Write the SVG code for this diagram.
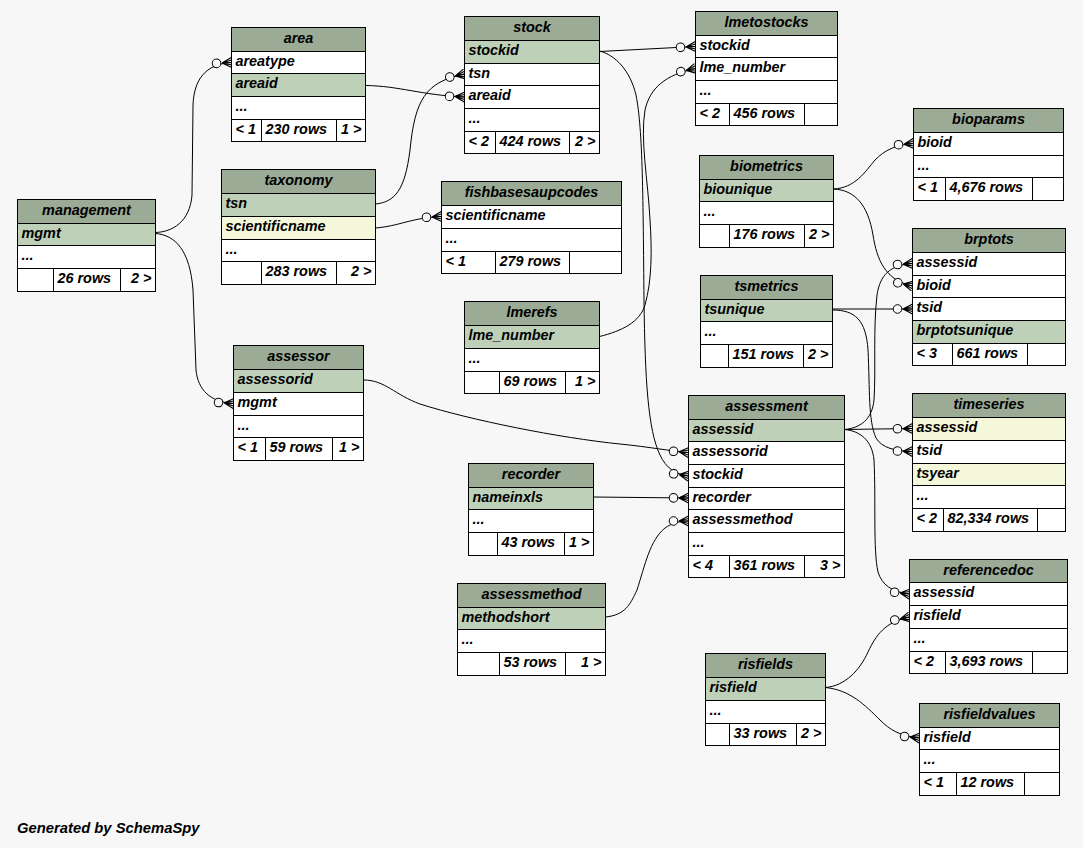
<svg xmlns="http://www.w3.org/2000/svg" width="1083" height="848" viewBox="0 0 1083 848">
<style>
text{font-family:"Liberation Sans",Arial,sans-serif;font-size:14.4px;font-weight:bold;font-style:italic;fill:#000}
.h{text-anchor:middle}
.r{text-anchor:end}
.hd{fill:#9bab96;stroke:#000}
.pk{fill:#bed1b8;stroke:#000}
.ix{fill:#f4f7da;stroke:#000}
.rw{fill:#fff;stroke:#000}
.ln{stroke:#000;fill:none}
.e{stroke:#000;fill:none;stroke-width:1;marker-end:url(#crow)}
</style>
<defs>
<marker id="crow" markerUnits="userSpaceOnUse" markerWidth="24" markerHeight="14" refX="20" refY="7" orient="auto" overflow="visible">
<path d="M10.5,7 L20,2 M10.5,7 L20,7 M10.5,7 L20,12 M10.5,7 L20,4.5 M10.5,7 L20,9.5" stroke="#000" stroke-width="1.1" fill="none"/>
<circle cx="5" cy="7" r="4.3" fill="#f7f7f7" stroke="#000"/>
</marker>
</defs>
<rect width="1083" height="848" fill="#f7f7f7"/>

<g id="connectors">
<path class="e" d="M155.5,232.5 C172,232 190,222 192,195 L193,105 C194,80 205,64 231.5,62.5"/>
<path class="e" d="M155.5,233.5 C175,235 190,250 193,290 L196,370 C198,390 210,402 233.5,403.5"/>
<path class="e" d="M365.5,85.5 C400,86 420,95 464.5,97"/>
<path class="e" d="M375.5,204 C395,202 405,190 410,150 C415,100 425,82 464.5,74"/>
<path class="e" d="M375.5,228 C400,226 410,218 441.5,216.5"/>
<path class="e" d="M599.5,51.5 L695.5,46.5"/>
<path class="e" d="M599.5,336.5 C622,331 640,322 645,305 C652,280 652,250 650,220 C648,180 640,140 645,110 C650,88 665,75 695.5,68.5"/>
<path class="e" d="M599.5,51 C615,55 630,70 636,95 C643,130 643,200 644,300 C645,380 648,430 660,455 C666,468 675,474 688.5,476"/>
<path class="e" d="M363.5,380 C385,380 395,395 420,404 C470,420 560,438 620,444 C650,447 670,451 688.5,452.5"/>
<path class="e" d="M593.5,497 L688.5,498"/>
<path class="e" d="M605.5,617 C625,615 630,605 637,590 C645,565 650,540 665,528 C672,523 680,521 688.5,521"/>
<path class="e" d="M833.5,189 C855,188 865,172 875,160 C885,150 895,145 913.5,143.5"/>
<path class="e" d="M833.5,189 C855,190 868,205 873,235 C877,260 885,280 912.5,286"/>
<path class="e" d="M832.5,309 L912.5,309"/>
<path class="e" d="M832.5,310 C855,310 866,320 868,350 C870,390 868,420 876,438 C882,448 895,451 912.5,451.5"/>
<path class="e" d="M844.5,429.5 L912.5,428.5"/>
<path class="e" d="M844.5,429.5 C860,428 872,420 874,400 C876,370 873,330 877,295 C880,275 890,265 912.5,263.5"/>
<path class="e" d="M844.5,429.5 C860,431 872,440 874,460 C876,500 873,550 878,572 C882,585 892,592 909.5,594"/>
<path class="e" d="M825.5,687.5 C845,686 860,670 868,652 C876,635 885,622 909.5,617"/>
<path class="e" d="M825.5,687.5 C850,690 865,705 880,720 C890,730 900,736 919.5,738"/>
</g>

<g id="management">
<rect class="hd" x="17.5" y="199.5" width="138" height="24"/>
<text class="h" x="86.5" y="214.5">management</text>
<rect class="pk" x="17.5" y="223.5" width="138" height="22"/>
<text x="21.5" y="237.5">mgmt</text>
<rect class="rw" x="17.5" y="245.5" width="138" height="23"/>
<text x="21.5" y="259.5">...</text>
<rect class="rw" x="17.5" y="268.5" width="138" height="23"/>
<path class="ln" d="M53.5,268.5v23M120.5,268.5v23"/>
<text x="57.5" y="282.5">26 rows</text>
<text class="r" x="151.5" y="282.5">2 &gt;</text>
</g>

<g id="area">
<rect class="hd" x="231.5" y="27.5" width="134" height="24"/>
<text class="h" x="298.5" y="42.5">area</text>
<rect class="rw" x="231.5" y="51.5" width="134" height="22"/>
<text x="235.5" y="65.5">areatype</text>
<rect class="pk" x="231.5" y="73.5" width="134" height="23"/>
<text x="235.5" y="87.5">areaid</text>
<rect class="rw" x="231.5" y="96.5" width="134" height="23"/>
<text x="235.5" y="110.5">...</text>
<rect class="rw" x="231.5" y="119.5" width="134" height="22"/>
<path class="ln" d="M261.5,119.5v22M336.5,119.5v22"/>
<text x="235.5" y="133.5">&lt; 1</text>
<text x="265.5" y="133.5">230 rows</text>
<text class="r" x="361.5" y="133.5">1 &gt;</text>
</g>

<g id="taxonomy">
<rect class="hd" x="221.5" y="169.5" width="154" height="24"/>
<text class="h" x="298.5" y="184.5">taxonomy</text>
<rect class="pk" x="221.5" y="193.5" width="154" height="23"/>
<text x="225.5" y="207.5">tsn</text>
<rect class="ix" x="221.5" y="216.5" width="154" height="23"/>
<text x="225.5" y="230.5">scientificname</text>
<rect class="rw" x="221.5" y="239.5" width="154" height="22"/>
<text x="225.5" y="253.5">...</text>
<rect class="rw" x="221.5" y="261.5" width="154" height="23"/>
<path class="ln" d="M261.5,261.5v23M336.5,261.5v23"/>
<text x="265.5" y="275.5">283 rows</text>
<text class="r" x="371.5" y="275.5">2 &gt;</text>
</g>

<g id="stock">
<rect class="hd" x="464.5" y="16.5" width="135" height="24"/>
<text class="h" x="532" y="31.5">stock</text>
<rect class="pk" x="464.5" y="40.5" width="135" height="23"/>
<text x="468.5" y="54.5">stockid</text>
<rect class="rw" x="464.5" y="63.5" width="135" height="22"/>
<text x="468.5" y="77.5">tsn</text>
<rect class="rw" x="464.5" y="85.5" width="135" height="23"/>
<text x="468.5" y="99.5">areaid</text>
<rect class="rw" x="464.5" y="108.5" width="135" height="23"/>
<text x="468.5" y="122.5">...</text>
<rect class="rw" x="464.5" y="131.5" width="135" height="22"/>
<path class="ln" d="M495.5,131.5v22M569.5,131.5v22"/>
<text x="468.5" y="145.5">&lt; 2</text>
<text x="499.5" y="145.5">424 rows</text>
<text class="r" x="595.5" y="145.5">2 &gt;</text>
</g>

<g id="lmetostocks">
<rect class="hd" x="695.5" y="11.5" width="142" height="24"/>
<text class="h" x="766.5" y="26.5">lmetostocks</text>
<rect class="rw" x="695.5" y="35.5" width="142" height="22"/>
<text x="699.5" y="49.5">stockid</text>
<rect class="rw" x="695.5" y="57.5" width="142" height="23"/>
<text x="699.5" y="71.5">lme_number</text>
<rect class="rw" x="695.5" y="80.5" width="142" height="23"/>
<text x="699.5" y="94.5">...</text>
<rect class="rw" x="695.5" y="103.5" width="142" height="22"/>
<path class="ln" d="M729.5,103.5v22M804.5,103.5v22"/>
<text x="699.5" y="117.5">&lt; 2</text>
<text x="733.5" y="117.5">456 rows</text>
</g>

<g id="fishbasesaupcodes">
<rect class="hd" x="441.5" y="181.5" width="180" height="24"/>
<text class="h" x="531.5" y="196.5">fishbasesaupcodes</text>
<rect class="rw" x="441.5" y="205.5" width="180" height="23"/>
<text x="445.5" y="219.5">scientificname</text>
<rect class="rw" x="441.5" y="228.5" width="180" height="23"/>
<text x="445.5" y="242.5">...</text>
<rect class="rw" x="441.5" y="251.5" width="180" height="22"/>
<path class="ln" d="M495.5,251.5v22M569.5,251.5v22"/>
<text x="445.5" y="265.5">&lt; 1</text>
<text x="499.5" y="265.5">279 rows</text>
</g>

<g id="biometrics">
<rect class="hd" x="699.5" y="155.5" width="134" height="24"/>
<text class="h" x="766.5" y="170.5">biometrics</text>
<rect class="pk" x="699.5" y="179.5" width="134" height="22"/>
<text x="703.5" y="193.5">biounique</text>
<rect class="rw" x="699.5" y="201.5" width="134" height="23"/>
<text x="703.5" y="215.5">...</text>
<rect class="rw" x="699.5" y="224.5" width="134" height="23"/>
<path class="ln" d="M729.5,224.5v23M804.5,224.5v23"/>
<text x="733.5" y="238.5">176 rows</text>
<text class="r" x="829.5" y="238.5">2 &gt;</text>
</g>

<g id="bioparams">
<rect class="hd" x="913.5" y="108.5" width="150" height="24"/>
<text class="h" x="988.5" y="123.5">bioparams</text>
<rect class="rw" x="913.5" y="132.5" width="150" height="23"/>
<text x="917.5" y="146.5">bioid</text>
<rect class="rw" x="913.5" y="155.5" width="150" height="22"/>
<text x="917.5" y="169.5">...</text>
<rect class="rw" x="913.5" y="177.5" width="150" height="23"/>
<path class="ln" d="M945.5,177.5v23M1032.5,177.5v23"/>
<text x="917.5" y="191.5">&lt; 1</text>
<text x="949.5" y="191.5">4,676 rows</text>
</g>

<g id="brptots">
<rect class="hd" x="912.5" y="228.5" width="153" height="24"/>
<text class="h" x="989" y="243.5">brptots</text>
<rect class="rw" x="912.5" y="252.5" width="153" height="23"/>
<text x="916.5" y="266.5">assessid</text>
<rect class="rw" x="912.5" y="275.5" width="153" height="22"/>
<text x="916.5" y="289.5">bioid</text>
<rect class="rw" x="912.5" y="297.5" width="153" height="23"/>
<text x="916.5" y="311.5">tsid</text>
<rect class="pk" x="912.5" y="320.5" width="153" height="23"/>
<text x="916.5" y="334.5">brptotsunique</text>
<rect class="rw" x="912.5" y="343.5" width="153" height="22"/>
<path class="ln" d="M952.5,343.5v22M1027.5,343.5v22"/>
<text x="916.5" y="357.5">&lt; 3</text>
<text x="956.5" y="357.5">661 rows</text>
</g>

<g id="tsmetrics">
<rect class="hd" x="700.5" y="275.5" width="132" height="24"/>
<text class="h" x="766.5" y="290.5">tsmetrics</text>
<rect class="pk" x="700.5" y="299.5" width="132" height="22"/>
<text x="704.5" y="313.5">tsunique</text>
<rect class="rw" x="700.5" y="321.5" width="132" height="23"/>
<text x="704.5" y="335.5">...</text>
<rect class="rw" x="700.5" y="344.5" width="132" height="23"/>
<path class="ln" d="M728.5,344.5v23M803.5,344.5v23"/>
<text x="732.5" y="358.5">151 rows</text>
<text class="r" x="828.5" y="358.5">2 &gt;</text>
</g>

<g id="lmerefs">
<rect class="hd" x="464.5" y="301.5" width="135" height="24"/>
<text class="h" x="532" y="316.5">lmerefs</text>
<rect class="pk" x="464.5" y="325.5" width="135" height="23"/>
<text x="468.5" y="339.5">lme_number</text>
<rect class="rw" x="464.5" y="348.5" width="135" height="23"/>
<text x="468.5" y="362.5">...</text>
<rect class="rw" x="464.5" y="371.5" width="135" height="22"/>
<path class="ln" d="M499.5,371.5v22M565.5,371.5v22"/>
<text x="503.5" y="385.5">69 rows</text>
<text class="r" x="595.5" y="385.5">1 &gt;</text>
</g>

<g id="assessor">
<rect class="hd" x="233.5" y="345.5" width="130" height="24"/>
<text class="h" x="298.5" y="360.5">assessor</text>
<rect class="pk" x="233.5" y="369.5" width="130" height="23"/>
<text x="237.5" y="383.5">assessorid</text>
<rect class="rw" x="233.5" y="392.5" width="130" height="23"/>
<text x="237.5" y="406.5">mgmt</text>
<rect class="rw" x="233.5" y="415.5" width="130" height="22"/>
<text x="237.5" y="429.5">...</text>
<rect class="rw" x="233.5" y="437.5" width="130" height="23"/>
<path class="ln" d="M265.5,437.5v23M332.5,437.5v23"/>
<text x="237.5" y="451.5">&lt; 1</text>
<text x="269.5" y="451.5">59 rows</text>
<text class="r" x="359.5" y="451.5">1 &gt;</text>
</g>

<g id="assessment">
<rect class="hd" x="688.5" y="395.5" width="156" height="24"/>
<text class="h" x="766.5" y="410.5">assessment</text>
<rect class="pk" x="688.5" y="419.5" width="156" height="22"/>
<text x="692.5" y="433.5">assessid</text>
<rect class="rw" x="688.5" y="441.5" width="156" height="23"/>
<text x="692.5" y="455.5">assessorid</text>
<rect class="rw" x="688.5" y="464.5" width="156" height="23"/>
<text x="692.5" y="478.5">stockid</text>
<rect class="rw" x="688.5" y="487.5" width="156" height="22"/>
<text x="692.5" y="501.5">recorder</text>
<rect class="rw" x="688.5" y="509.5" width="156" height="23"/>
<text x="692.5" y="523.5">assessmethod</text>
<rect class="rw" x="688.5" y="532.5" width="156" height="23"/>
<text x="692.5" y="546.5">...</text>
<rect class="rw" x="688.5" y="555.5" width="156" height="22"/>
<path class="ln" d="M729.5,555.5v22M804.5,555.5v22"/>
<text x="692.5" y="569.5">&lt; 4</text>
<text x="733.5" y="569.5">361 rows</text>
<text class="r" x="840.5" y="569.5">3 &gt;</text>
</g>

<g id="timeseries">
<rect class="hd" x="912.5" y="393.5" width="153" height="24"/>
<text class="h" x="989" y="408.5">timeseries</text>
<rect class="ix" x="912.5" y="417.5" width="153" height="23"/>
<text x="916.5" y="431.5">assessid</text>
<rect class="rw" x="912.5" y="440.5" width="153" height="23"/>
<text x="916.5" y="454.5">tsid</text>
<rect class="ix" x="912.5" y="463.5" width="153" height="22"/>
<text x="916.5" y="477.5">tsyear</text>
<rect class="rw" x="912.5" y="485.5" width="153" height="23"/>
<text x="916.5" y="499.5">...</text>
<rect class="rw" x="912.5" y="508.5" width="153" height="23"/>
<path class="ln" d="M943.5,508.5v23M1037.5,508.5v23"/>
<text x="916.5" y="522.5">&lt; 2</text>
<text x="947.5" y="522.5">82,334 rows</text>
</g>

<g id="recorder">
<rect class="hd" x="468.5" y="463.5" width="125" height="24"/>
<text class="h" x="531" y="478.5">recorder</text>
<rect class="pk" x="468.5" y="487.5" width="125" height="22"/>
<text x="472.5" y="501.5">nameinxls</text>
<rect class="rw" x="468.5" y="509.5" width="125" height="23"/>
<text x="472.5" y="523.5">...</text>
<rect class="rw" x="468.5" y="532.5" width="125" height="23"/>
<path class="ln" d="M497.5,532.5v23M564.5,532.5v23"/>
<text x="501.5" y="546.5">43 rows</text>
<text class="r" x="589.5" y="546.5">1 &gt;</text>
</g>

<g id="assessmethod">
<rect class="hd" x="457.5" y="583.5" width="148" height="24"/>
<text class="h" x="531.5" y="598.5">assessmethod</text>
<rect class="pk" x="457.5" y="607.5" width="148" height="22"/>
<text x="461.5" y="621.5">methodshort</text>
<rect class="rw" x="457.5" y="629.5" width="148" height="23"/>
<text x="461.5" y="643.5">...</text>
<rect class="rw" x="457.5" y="652.5" width="148" height="23"/>
<path class="ln" d="M499.5,652.5v23M565.5,652.5v23"/>
<text x="503.5" y="666.5">53 rows</text>
<text class="r" x="601.5" y="666.5">1 &gt;</text>
</g>

<g id="referencedoc">
<rect class="hd" x="909.5" y="559.5" width="158" height="23"/>
<text class="h" x="988.5" y="574.5">referencedoc</text>
<rect class="rw" x="909.5" y="582.5" width="158" height="23"/>
<text x="913.5" y="596.5">assessid</text>
<rect class="rw" x="909.5" y="605.5" width="158" height="23"/>
<text x="913.5" y="619.5">risfield</text>
<rect class="rw" x="909.5" y="628.5" width="158" height="23"/>
<text x="913.5" y="642.5">...</text>
<rect class="rw" x="909.5" y="651.5" width="158" height="22"/>
<path class="ln" d="M945.5,651.5v22M1032.5,651.5v22"/>
<text x="913.5" y="665.5">&lt; 2</text>
<text x="949.5" y="665.5">3,693 rows</text>
</g>

<g id="risfields">
<rect class="hd" x="705.5" y="653.5" width="120" height="24"/>
<text class="h" x="765.5" y="668.5">risfields</text>
<rect class="pk" x="705.5" y="677.5" width="120" height="23"/>
<text x="709.5" y="691.5">risfield</text>
<rect class="rw" x="705.5" y="700.5" width="120" height="23"/>
<text x="709.5" y="714.5">...</text>
<rect class="rw" x="705.5" y="723.5" width="120" height="22"/>
<path class="ln" d="M729.5,723.5v22M796.5,723.5v22"/>
<text x="733.5" y="737.5">33 rows</text>
<text class="r" x="821.5" y="737.5">2 &gt;</text>
</g>

<g id="risfieldvalues">
<rect class="hd" x="919.5" y="703.5" width="140" height="24"/>
<text class="h" x="989.5" y="718.5">risfieldvalues</text>
<rect class="rw" x="919.5" y="727.5" width="140" height="22"/>
<text x="923.5" y="741.5">risfield</text>
<rect class="rw" x="919.5" y="749.5" width="140" height="23"/>
<text x="923.5" y="763.5">...</text>
<rect class="rw" x="919.5" y="772.5" width="140" height="23"/>
<path class="ln" d="M956.5,772.5v23M1024.5,772.5v23"/>
<text x="923.5" y="786.5">&lt; 1</text>
<text x="960.5" y="786.5">12 rows</text>
</g>

<text x="17" y="833" style="font-size:14.8px">Generated by SchemaSpy</text>
</svg>
